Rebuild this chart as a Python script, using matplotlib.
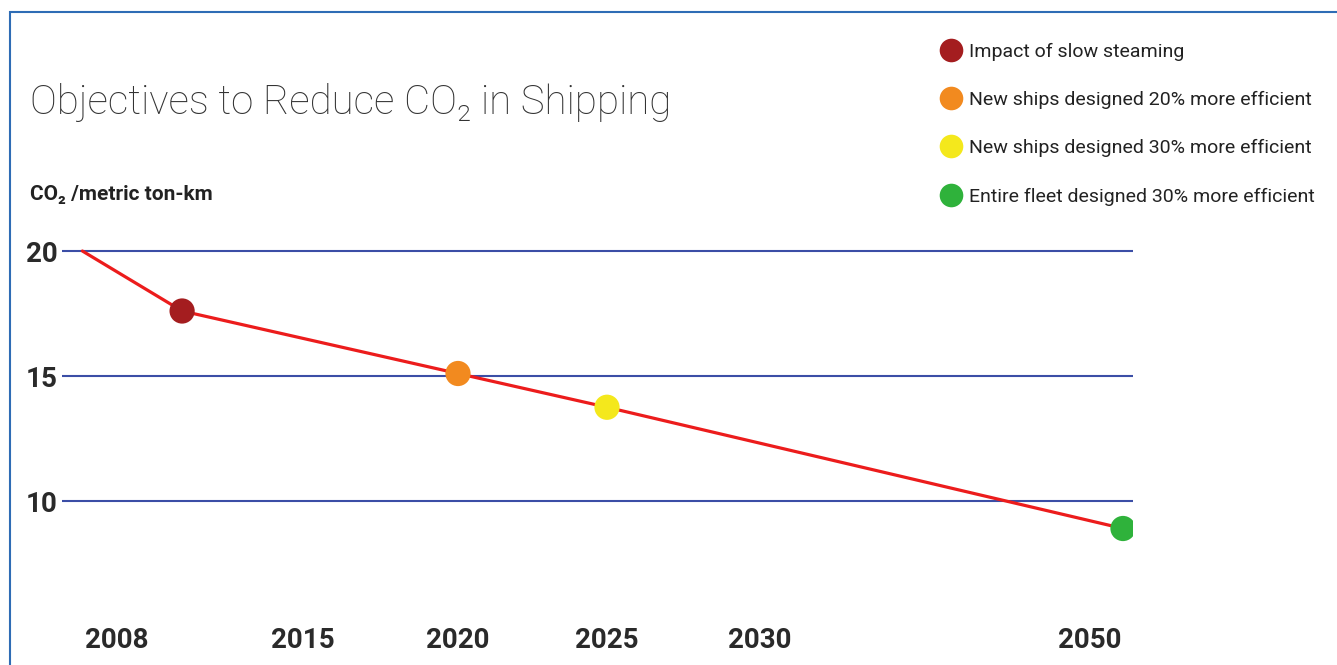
import matplotlib
matplotlib.use("Agg")
import matplotlib.pyplot as plt
import numpy as np
from matplotlib.lines import Line2D
from matplotlib.patches import Rectangle

# emission path, CO2 per metric ton-km
years = [2006.7, 2010.45, 2020, 2025, 2052]
co2 = [20.0, 17.6, 15.1, 13.75, 8.9]

milestones = ["Impact of slow steaming",
              "New ships designed 20% more efficient",
              "New ships designed 30% more efficient",
              "Entire fleet designed 30% more efficient"]
milestone_colors = ["#a41d1f", "#f28a1f", "#f4e81c", "#2fb23b"]

tick_years = [2008, 2015, 2020, 2025, 2030, 2050]
y_ticks = [10, 15, 20]

# the year axis is stretched unevenly: 2030-2050 is squeezed
knot_years = [2000, 2008, 2015, 2020, 2025, 2030, 2050, 2060]
knot_pos = [-96, 117, 303, 458, 607, 760, 1090, 1255]


def fwd(x):
    return np.interp(x, knot_years, knot_pos)


def inv(p):
    return np.interp(p, knot_pos, knot_years)


SANS = ["Roboto", "DejaVu Sans"]

fig = plt.figure(figsize=(13.37, 6.65), dpi=100)
W, H = 1337, 665
ax = fig.add_axes([62 / W, 1 - 596 / H, 1071 / W, 360 / H])
ax.set_xscale("function", functions=(fwd, inv))
ax.set_xlim(inv(62), inv(1133))
ax.set_ylim(6.2, 20.6)

for v in y_ticks:
    ax.axhline(v, color="#3b4ea6", lw=1.5, zorder=1)

ax.plot(years, co2, color="#ec1c1c", lw=2.3, zorder=2, solid_capstyle="round")
ax.scatter(years[1:], co2[1:], s=330, c=milestone_colors, zorder=3, edgecolors="none")

for s in ax.spines.values():
    s.set_visible(False)
ax.set_xticks(tick_years)
ax.set_xticklabels([str(t) for t in tick_years], family=SANS, fontweight="bold",
                   fontsize=20, color="#2a2a2a")
ax.set_yticks(y_ticks)
ax.set_yticklabels([str(t) for t in y_ticks], family=SANS, fontweight="bold",
                   fontsize=20, color="#2a2a2a")
ax.tick_params(axis="x", length=0, pad=22)
ax.tick_params(axis="y", length=0, pad=3)
ax.xaxis.set_minor_locator(matplotlib.ticker.NullLocator())

fig.text(30 / W, 1 - 114 / H, "Objectives to Reduce CO\u2082 in Shipping",
         family=SANS, fontweight="light", fontsize=29,
         color="#333333", ha="left", va="baseline")
fig.text(30 / W, 1 - 200 / H, "CO\u2082 /metric ton-km", family=SANS,
         fontweight="bold", fontsize=15, color="#222222", ha="left", va="baseline")

handles = [Line2D([], [], ls="none", marker="o", markersize=17, color=c, markeredgewidth=0)
           for c in milestone_colors]
leg = fig.legend(handles, milestones, loc="upper left", bbox_to_anchor=(930 / W, 1 - 33 / H),
                 frameon=False, prop={"family": SANS, "size": 14}, labelspacing=1.55,
                 handletextpad=0.3, handlelength=1.2, borderpad=0)
for t in leg.get_texts():
    t.set_color("#222222")

# thin blue frame round the graphic
fig.patches.append(Rectangle((10 / W, -0.1), 1.2, 1 - 12 / H + 0.1, transform=fig.transFigure,
                             fill=False, ec="#2e6cb5", lw=1.5))

fig.savefig("out.png", dpi=100, facecolor="white")
